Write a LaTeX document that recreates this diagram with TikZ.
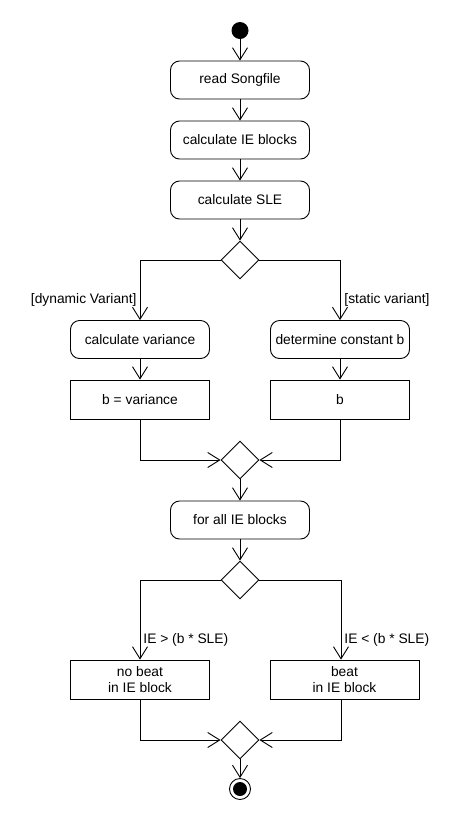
\documentclass[tikz,border=0pt]{standalone}
\usepackage{fontspec}
\setmainfont{Liberation Sans}
\usetikzlibrary{arrows.meta, shapes.geometric}

\begin{document}
\begin{tikzpicture}[x=1pt, y=-1pt, line width=0.9pt,
    action/.style={draw, rounded corners=9pt, minimum width=139pt, minimum height=38pt,
        inner sep=0pt, font=\fontsize{13.8}{15}\selectfont},
    block/.style={draw, minimum width=139pt, minimum height=39pt, inner sep=0pt,
        align=center, font=\fontsize{13.8}{16}\selectfont},
    decision/.style={draw, diamond, minimum width=38pt, minimum height=38pt, inner sep=0pt},
    initial/.style={circle, fill, minimum size=17pt, inner sep=0pt},
    final/.style={circle, draw, minimum size=21pt, inner sep=0pt},
    guard/.style={inner sep=0pt, font=\fontsize{13.8}{15}\selectfont},
    flow/.style={-{Straight Barb[length=12pt, width=15pt]}}]
    % Canvas of the whole diagram
    \useasboundingbox (0,0) rectangle (460,820);

    % Start and the first three actions
    \node[initial] (start) at (240,30.5) {};
    \node[action] (read) at (240,80) {read Songfile};
    \node[action] (ieblk) at (240,140) {calculate IE blocks};
    \node[action] (sle) at (240,200) {calculate SLE};
    \node[decision] (dec1) at (240,260) {};

    % The two variants for b
    \node[action] (var) at (140,339.5) {calculate variance};
    \node[action] (const) at (340,339.5) {determine constant b};
    \node[block] (bvar) at (140,399.5) {b = variance};
    \node[block] (bconst) at (340,399.5) {b};
    \node[guard, anchor=east] (gdyn) at (137,300) {[dynamic Variant]};
    \node[guard, anchor=west] (gstat) at (344,300) {[static variant]};
    \node[decision] (merge1) at (240,460) {};

    % Loop over the blocks
    \node[action] (loop) at (240,520) {for all IE blocks};
    \node[decision] (dec2) at (240,580) {};
    \node[block] (nobeat) at (140,679.5) {no beat\\in IE block};
    \node[block, minimum width=149pt] (beat) at (344.5,679.5) {beat\\in IE block};
    \node[guard, anchor=west] (gless) at (143,640) {IE > (b * SLE)};
    \node[guard, anchor=west] (gmore) at (344,640) {IE < (b * SLE)};
    \node[decision] (merge2) at (240,740) {};
    \node[final] (end) at (240,789) {};
    \fill (end) circle (7);

    % Control flow
    \draw[flow] (start) -- (read);
    \draw[flow] (read) -- (ieblk);
    \draw[flow] (ieblk) -- (sle);
    \draw[flow] (sle) -- (dec1);
    \draw[flow] (dec1.west) -| (var.north);
    \draw[flow] (dec1.east) -| (const.north);
    \draw[flow] (var) -- (bvar);
    \draw[flow] (const) -- (bconst);
    \draw[flow] (bvar.south) |- (merge1.west);
    \draw[flow] (bconst.south) |- (merge1.east);
    \draw[flow] (merge1) -- (loop);
    \draw[flow] (loop) -- (dec2);
    \draw[flow] (dec2.west) -| (nobeat.north);
    \draw[flow] (dec2.east) -| ([xshift=-3.5pt]beat.north);
    \draw[flow] (nobeat.south) |- (merge2.west);
    \draw[flow] ([xshift=-3.5pt]beat.south) |- (merge2.east);
    \draw[flow] (merge2) -- (end);
\end{tikzpicture}
\end{document}
